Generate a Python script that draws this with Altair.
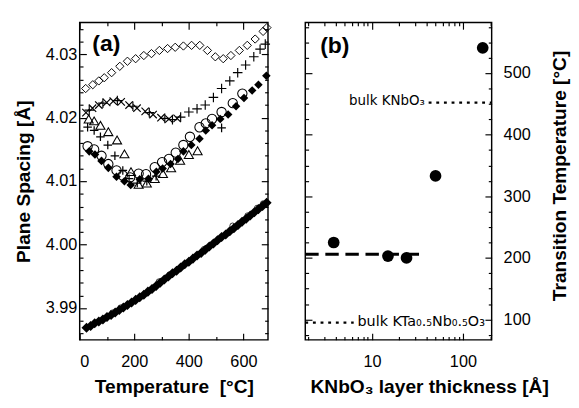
import altair as alt
import pandas as pd

# ---------------- Panel (a): plane spacing vs temperature ----------------
ODIA_T = [22, 48, 70, 90, 117, 147, 175, 205, 235, 263, 292, 322, 350, 380, 410, 440, 468, 497, 526, 554, 585, 614, 643, 672, 686]
ODIA_V = [4.0246, 4.0252, 4.0258, 4.0263, 4.0271, 4.0281, 4.0289, 4.0293, 4.0298, 4.0301, 4.0306, 4.0309, 4.0311, 4.0313, 4.0314, 4.0314, 4.0306, 4.0296, 4.0293, 4.0298, 4.0306, 4.0314, 4.0324, 4.0336, 4.0342]

XC_T = [23, 47, 70, 99, 123, 152, 181, 210, 240, 269, 298, 327, 357]
XC_V = [4.0208, 4.0215, 4.0220, 4.0224, 4.0226, 4.0225, 4.0220, 4.0215, 4.0210, 4.0205, 4.0200, 4.0198, 4.0199]

PU_T = [35, 85, 138, 195, 255, 312, 340, 370, 400, 430, 460, 490, 520, 550, 579, 608, 638, 661, 680]
PU_V = [4.0212, 4.0223, 4.0227, 4.0218, 4.0208, 4.0199, 4.0197, 4.0201, 4.0209, 4.0214, 4.0220, 4.0232, 4.0246, 4.0258, 4.0271, 4.0283, 4.0296, 4.0308, 4.0316]

TRI_T = [33, 53, 76, 105, 137, 164, 188, 216, 246, 275, 305, 335, 368, 400, 432]
TRI_V = [4.0198, 4.0195, 4.0188, 4.0178, 4.0165, 4.0143, 4.0115, 4.0095, 4.0097, 4.0104, 4.0112, 4.0121, 4.0133, 4.0142, 4.0148]

PL_T = [29, 53, 76, 103, 129, 158, 181, 211, 246, 280, 520]
PL_V = [4.0185, 4.0180, 4.0170, 4.0157, 4.0140, 4.0117, 4.0104, 4.0097, 4.0100, 4.0108, 4.0184]

OC_T = [29, 53, 80, 105, 135, 158, 185, 216, 243, 275, 302, 327, 352, 380, 404, 439, 462, 485, 520, 561, 596]
OC_V = [4.0155, 4.0150, 4.0140, 4.0127, 4.0117, 4.0109, 4.0106, 4.0112, 4.0111, 4.0122, 4.0130, 4.0135, 4.0145, 4.0157, 4.0170, 4.0185, 4.0191, 4.0198, 4.0209, 4.0223, 4.0238]

FD_T = [35, 56, 80, 105, 135, 164, 187, 220, 252, 281, 304, 333, 360, 380, 409, 439, 462, 485, 515, 544, 573, 602, 632, 655, 684]
FD_V = [4.0147, 4.0142, 4.0132, 4.0121, 4.0107, 4.0100, 4.0094, 4.0103, 4.0104, 4.0115, 4.0120, 4.0127, 4.0135, 4.0147, 4.0157, 4.0167, 4.0180, 4.0188, 4.0198, 4.0205, 4.0218, 4.0231, 4.0243, 4.0252, 4.0266]

LB_T = [25, 40, 55, 70, 85, 100, 115, 130, 145, 160, 175, 190, 205, 220, 235, 250, 265, 280, 295, 310, 325, 340, 355, 370, 385, 400, 415, 430, 445, 460, 475, 490, 505, 520, 535, 550, 565, 580, 595, 610, 625, 640, 655, 670, 685]
LB_V = [3.9869, 3.9872, 3.9876, 3.9879, 3.9882, 3.9886, 3.9889, 3.9893, 3.9897, 3.9901, 3.9905, 3.9909, 3.9913, 3.9917, 3.9921, 3.9926, 3.9930, 3.9935, 3.9940, 3.9945, 3.9950, 3.9955, 3.9959, 3.9964, 3.9969, 3.9973, 3.9978, 3.9983, 3.9987, 3.9992, 3.9997, 4.0002, 4.0007, 4.0012, 4.0016, 4.0021, 4.0026, 4.0031, 4.0036, 4.0041, 4.0046, 4.0051, 4.0056, 4.0061, 4.0066]

LO_T = [120, 150, 290, 330, 455, 560, 615, 650, 672]
LO_V = [3.9893, 3.9901, 3.9942, 3.9953, 3.9993, 4.0030, 4.0046, 4.0058, 4.0065]

A_XTICKS_MAJOR = [0, 200, 400, 600]
A_XTICKS_MINOR = [100, 300, 500]
A_YTICKS_MAJOR = [3.99, 4.00, 4.01, 4.02, 4.03]
A_YTICKS_MINOR = [3.986, 3.988, 3.992, 3.994, 3.996, 3.998, 4.002, 4.004, 4.006, 4.008,
                  4.012, 4.014, 4.016, 4.018, 4.022, 4.024, 4.026, 4.028, 4.032, 4.034]

# ---------------- Panel (b): transition temperature vs thickness ----------------
THICK = [3.8, 15, 24, 50, 165]
TC = [225, 203, 200, 333, 541]
DASH_X = [1.85, 34]
DASH_Y = 206
BULK_KNBO3 = 452
BULK_KNBO3_X = [42, 207]
BULK_KTN = 95
BULK_KTN_X = [1.85, 6.3]

B_XTICKS_MAJOR = [10, 100]
B_XTICKS_MINOR = [2, 3, 4, 5, 6, 7, 8, 9, 20, 30, 40, 50, 60, 70, 80, 90, 200]
B_YTICKS_MAJOR = [100, 200, 300, 400, 500]
B_YTICKS_MINOR = [75, 125, 150, 175, 225, 250, 275, 325, 350, 375, 425, 450, 475, 525, 550, 575]

FONT = "Liberation Sans"
ANNOT_FONT = "DejaVu Sans"
X_PATH = "M-1,-1L1,1M-1,1L1,-1"
PLUS_PATH = "M-1,0L1,0M0,-1L0,1"

xa = alt.Scale(domain=[0, 690], nice=False, zero=False)
ya = alt.Scale(domain=[3.985, 4.035], nice=False, zero=False)
xb = alt.Scale(type="log", domain=[1.85, 207], nice=False)
yb = alt.Scale(domain=[67, 582], nice=False, zero=False)

MAJ, MIN = 7, 3.5


def ax(orient, values, size, **kw):
    return alt.Axis(orient=orient, values=values, tickSize=size, offset=-size,
                    domain=False, grid=False, **kw)


def pts(T, V, shape, filled, size, sw=1.0):
    df = pd.DataFrame({"T": T, "V": V})
    return alt.Chart(df).mark_point(shape=shape, filled=filled, size=size, color="black",
                                    strokeWidth=sw, opacity=1).encode(
        x=alt.X("T:Q", scale=xa, axis=None),
        y=alt.Y("V:Q", scale=ya, axis=None))


dfa = pd.DataFrame({"T": FD_T, "V": FD_V})


def axis_layer_a(xaxis, yaxis):
    return alt.Chart(dfa).mark_point(opacity=0).encode(
        x=alt.X("T:Q", scale=xa, axis=xaxis),
        y=alt.Y("V:Q", scale=ya, axis=yaxis))


a_axes = [
    axis_layer_a(ax("bottom", A_XTICKS_MAJOR, MAJ, labelPadding=15, format="d",
                    title="Temperature\u00a0 [°C]", titlePadding=8),
                 ax("left", A_YTICKS_MAJOR, MAJ, labelPadding=3, format=".2f",
                    title="Plane Spacing [Å]", titlePadding=12)),
    axis_layer_a(ax("bottom", A_XTICKS_MINOR, MIN, labels=False, title=None),
                 ax("left", A_YTICKS_MINOR, MIN, labels=False, title=None)),
    axis_layer_a(ax("top", A_XTICKS_MAJOR, MAJ, labels=False, title=None),
                 ax("right", A_YTICKS_MAJOR, MAJ, labels=False, title=None)),
    axis_layer_a(ax("top", A_XTICKS_MINOR, MIN, labels=False, title=None),
                 ax("right", A_YTICKS_MINOR, MIN, labels=False, title=None)),
]

a_series = [
    pts(LB_T, LB_V, "diamond", True, 110),
    pts(LO_T, LO_V, "circle", False, 30, 0.8),
    pts(ODIA_T, ODIA_V, "diamond", False, 75, 1.0),
    pts(XC_T, XC_V, X_PATH, False, 60, 1.2),
    pts(PU_T, PU_V, PLUS_PATH, False, 100, 1.2),
    pts(TRI_T, TRI_V, "triangle-up", False, 90, 1.1),
    pts(PL_T, PL_V, PLUS_PATH, False, 80, 1.3),
    pts(OC_T, OC_V, "circle", False, 95, 1.1),
    pts(FD_T, FD_V, "diamond", True, 80),
]

a_label = alt.Chart(pd.DataFrame({"T": [46], "V": [4.0315], "t": ["(a)"]})).mark_text(
    align="left", baseline="middle", font=FONT, fontSize=24, fontWeight="bold", color="black"
).encode(x=alt.X("T:Q", scale=xa, axis=None), y=alt.Y("V:Q", scale=ya, axis=None), text="t:N")

panel_a = alt.layer(*a_axes, *a_series, a_label).resolve_axis(
    x="independent", y="independent").properties(width=197, height=332)

# ---------------- panel b ----------------
dfb = pd.DataFrame({"d": THICK, "tc": TC})


def axis_layer_b(xaxis, yaxis):
    return alt.Chart(dfb).mark_point(opacity=0).encode(
        x=alt.X("d:Q", scale=xb, axis=xaxis),
        y=alt.Y("tc:Q", scale=yb, axis=yaxis))


b_axes = [
    axis_layer_b(ax("bottom", B_XTICKS_MAJOR, MAJ, labelPadding=15, format="d",
                    title="KNbO₃ layer thickness [Å]", titlePadding=8,
                    titleAnchor="start", titleAlign="left", titleX=5),
                 ax("right", B_YTICKS_MAJOR, MAJ, labelPadding=12, format="d",
                    title="Transition Temperature [°C]", titlePadding=21,
                    titleAngle=270, titleBaseline="top", titleY=160)),
    axis_layer_b(ax("bottom", B_XTICKS_MINOR, MIN, labels=False, title=None),
                 ax("right", B_YTICKS_MINOR, MIN, labels=False, title=None)),
    axis_layer_b(ax("top", B_XTICKS_MAJOR, MAJ, labels=False, title=None),
                 ax("left", B_YTICKS_MAJOR, MAJ, labels=False, title=None)),
    axis_layer_b(ax("top", B_XTICKS_MINOR, MIN, labels=False, title=None),
                 ax("left", B_YTICKS_MINOR, MIN, labels=False, title=None)),
]

b_points = alt.Chart(dfb).mark_point(shape="circle", filled=True, size=150, color="black", opacity=1).encode(
    x=alt.X("d:Q", scale=xb, axis=None), y=alt.Y("tc:Q", scale=yb, axis=None))

dash = alt.Chart(pd.DataFrame({"x1": [DASH_X[0]], "x2": [DASH_X[1]], "y": [DASH_Y]})).mark_rule(
    color="black", strokeWidth=3, strokeDash=[14, 7]).encode(
    x=alt.X("x1:Q", scale=xb, axis=None), x2="x2:Q", y=alt.Y("y:Q", scale=yb, axis=None))

dot1 = alt.Chart(pd.DataFrame({"x1": [BULK_KNBO3_X[0]], "x2": [BULK_KNBO3_X[1]], "y": [BULK_KNBO3]})).mark_rule(
    color="black", strokeWidth=2.5, strokeDash=[3, 5]).encode(
    x=alt.X("x1:Q", scale=xb, axis=None), x2="x2:Q", y=alt.Y("y:Q", scale=yb, axis=None))

dot2 = alt.Chart(pd.DataFrame({"x1": [BULK_KTN_X[0]], "x2": [BULK_KTN_X[1]], "y": [BULK_KTN]})).mark_rule(
    color="black", strokeWidth=2.5, strokeDash=[3, 5]).encode(
    x=alt.X("x1:Q", scale=xb, axis=None), x2="x2:Q", y=alt.Y("y:Q", scale=yb, axis=None))

txt1 = alt.Chart(pd.DataFrame({"x": [BULK_KNBO3_X[0]], "y": [BULK_KNBO3], "t": ["bulk KNbO₃"]})).mark_text(
    align="right", baseline="middle", dx=-4, dy=-1, font=ANNOT_FONT, fontSize=14, color="black").encode(
    x=alt.X("x:Q", scale=xb, axis=None), y=alt.Y("y:Q", scale=yb, axis=None), text="t:N")

txt2 = alt.Chart(pd.DataFrame({"x": [BULK_KTN_X[1]], "y": [BULK_KTN], "t": ["bulk KTa₀.₅Nb₀.₅O₃"]})).mark_text(
    align="left", baseline="middle", dx=4, dy=-1, font=ANNOT_FONT, fontSize=15, color="black").encode(
    x=alt.X("x:Q", scale=xb, axis=None), y=alt.Y("y:Q", scale=yb, axis=None), text="t:N")

b_label = alt.Chart(pd.DataFrame({"x": [2.7], "y": [544], "t": ["(b)"]})).mark_text(
    align="left", baseline="middle", font=FONT, fontSize=24, fontWeight="bold", color="black"
).encode(x=alt.X("x:Q", scale=xb, axis=None), y=alt.Y("y:Q", scale=yb, axis=None), text="t:N")

panel_b = alt.layer(*b_axes, dash, dot1, dot2, txt1, txt2, b_points, b_label).resolve_axis(
    x="independent", y="independent").properties(width=195, height=332)

chart = alt.hconcat(panel_a, panel_b, spacing=30).properties(
    padding={"left": 6, "top": 4, "right": 0, "bottom": 0}
).configure_view(stroke="black", strokeWidth=1.5).configure_axis(
    labelFont=FONT, labelFontSize=17, labelColor="black",
    titleFont=FONT, titleFontSize=20, titleFontWeight="bold", titleColor="black",
    tickColor="black", tickWidth=1.2
)

chart.save("out.html", embed_options={"renderer": "svg", "actions": False})
